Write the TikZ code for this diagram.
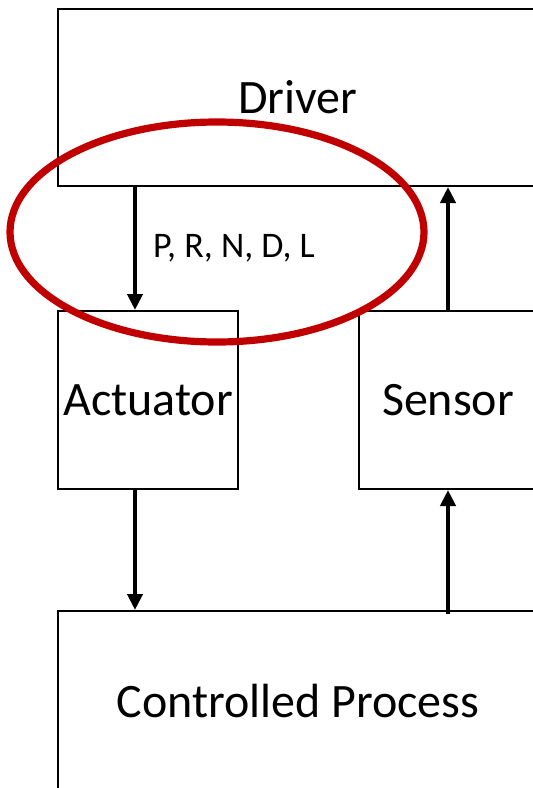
\documentclass[tikz,border=0pt]{standalone}
\usepackage{fontspec}
\setmainfont{Carlito}
\usetikzlibrary{arrows.meta,calc,positioning}
\definecolor{loopRingRed}{HTML}{C00000}

\tikzset{
    blockbox/.style={draw=black,line width=1pt,fill=white,anchor=north west,inner sep=0pt,font=\fontsize{24}{28}\selectfont},
    flowarr/.style={line width=2.4pt,-{Triangle[length=8pt,width=7.5pt]}},
    ring/.style={draw=loopRingRed,line width=3.6pt}
}

\begin{document}
\begin{tikzpicture}[x=0.5pt,y=-0.5pt]
    \useasboundingbox (0,0) rectangle (533,788);
    \clip (0,0) rectangle (533,788);
    \node[blockbox,minimum width=240pt,minimum height=88.5pt] (driver) at (57,8) {Driver};
    \node[blockbox,minimum width=90pt,minimum height=89pt] (actuator) at (57,310) {Actuator};
    \node[blockbox,minimum width=89pt,minimum height=89pt] (sensor) at (358,310) {Sensor};
    \node[blockbox,minimum width=240pt,minimum height=90pt] (process) at (57,610) {Controlled Process};

    \draw[flowarr] ([xshift=39pt]driver.south west) -- node[right=4.5pt,font=\fontsize{18}{21}\selectfont] (cmds) {P, R, N, D, L} ([xshift=39pt]actuator.north west);
    \draw[flowarr] (sensor.north) -- (sensor.north |- driver.south);
    \draw[flowarr] ([xshift=39pt]actuator.south west) -- ([xshift=39pt]process.north west);
    \draw[flowarr] ([yshift=-2pt]sensor.south |- process.north) -- (sensor.south);

    \draw[ring] (217,232) ellipse [x radius=103.5pt,y radius=55pt];
\end{tikzpicture}
\end{document}
